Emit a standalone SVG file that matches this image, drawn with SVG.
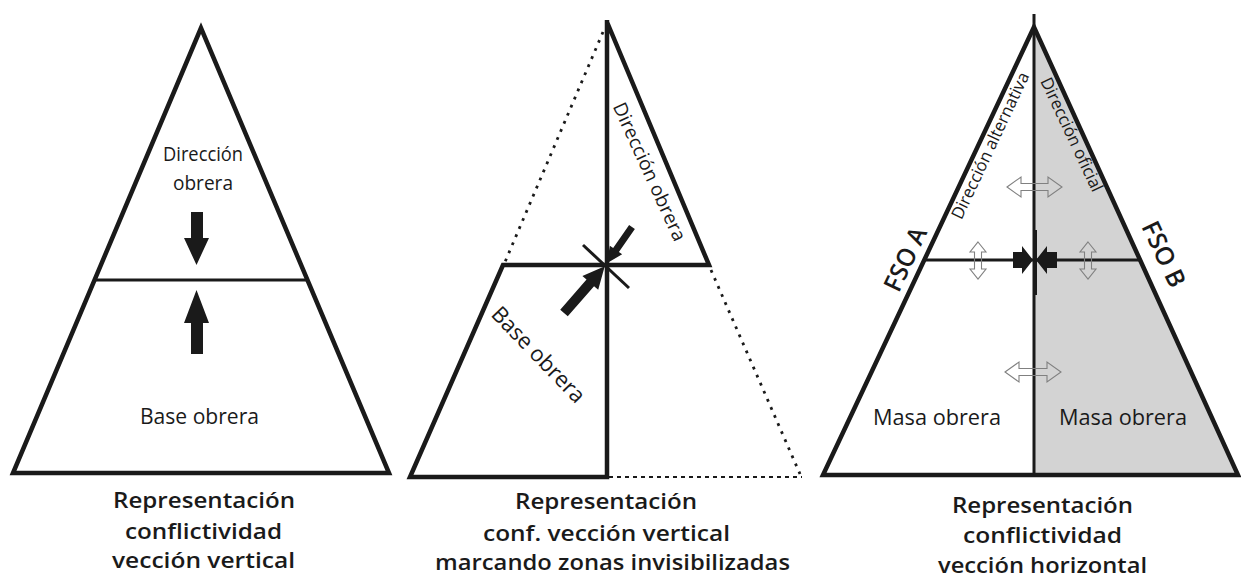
<svg xmlns="http://www.w3.org/2000/svg" width="1241" height="580" viewBox="0 0 1241 580">
<style>
.ln{fill:none;stroke:#1a1a1a;stroke-width:4.5;stroke-linejoin:miter}
.thin{fill:none;stroke:#1a1a1a;stroke-width:3}
.dot{fill:none;stroke:#1a1a1a;stroke-width:2.8;stroke-dasharray:2.8 6}
.dash{fill:none;stroke:#1a1a1a;stroke-width:2;stroke-dasharray:4 4}
.solid{fill:#1a1a1a;stroke:none}
.open{fill:none;stroke:#808080;stroke-width:1.1}
.lbl{font-family:"Open Sans","DejaVu Sans",sans-serif;fill:#1a1a1a;text-anchor:middle}
.cap{font-family:"Open Sans","DejaVu Sans",sans-serif;font-weight:600;font-size:22px;fill:#1a1a1a;text-anchor:middle}
.fso{font-family:"Open Sans","DejaVu Sans",sans-serif;font-weight:600;font-size:25px;fill:#1a1a1a;text-anchor:middle}
</style>
<rect width="1241" height="580" fill="#ffffff"/>

<g id="triangle1">
  <polygon class="ln" points="201,28 13,473 389,473"/>
  <line class="thin" x1="95" y1="280" x2="307" y2="280"/>
  <text class="lbl" x="203" y="161" font-size="20" textLength="80" lengthAdjust="spacingAndGlyphs">Dirección</text>
  <text class="lbl" x="203" y="190" font-size="20" textLength="60" lengthAdjust="spacingAndGlyphs">obrera</text>
  <text class="lbl" x="199.5" y="424" font-size="22" textLength="119" lengthAdjust="spacingAndGlyphs">Base obrera</text>
  <text class="cap" x="204" y="508" textLength="182" lengthAdjust="spacingAndGlyphs">Representación</text>
  <text class="cap" x="203.5" y="539" textLength="157" lengthAdjust="spacingAndGlyphs">conflictividad</text>
  <text class="cap" x="203.5" y="568" textLength="183" lengthAdjust="spacingAndGlyphs">vección vertical</text>
</g>

<g id="triangle2">
  <line class="dot" x1="603" y1="32" x2="505" y2="262"/>
  <line class="dot" x1="711" y1="270" x2="800" y2="474"/>
  <line class="dash" x1="609" y1="477" x2="802" y2="477"/>
  <polyline class="ln" points="607,22 709,265 503,265 410,477 607,477 607,20"/>
  <line class="thin" x1="583" y1="245" x2="629" y2="288"/>
  <text class="lbl" font-size="19" textLength="150" lengthAdjust="spacingAndGlyphs" transform="translate(649,172) rotate(65.5)" y="6">Dirección obrera</text>
  <text class="lbl" font-size="22" textLength="124" lengthAdjust="spacingAndGlyphs" transform="translate(538,355) rotate(46)" y="7">Base obrera</text>
  <text class="cap" x="606" y="509" textLength="182" lengthAdjust="spacingAndGlyphs">Representación</text>
  <text class="cap" x="606.5" y="541" textLength="247" lengthAdjust="spacingAndGlyphs">conf. vección vertical</text>
  <text class="cap" x="612.5" y="570" textLength="355" lengthAdjust="spacingAndGlyphs">marcando zonas invisibilizadas</text>
</g>

<g id="triangle3">
  <polygon points="1034,27 1238,475 1034,475" fill="#d3d3d3"/>
  <polygon class="ln" points="1034,27 823,475 1238,475"/>
  <line class="thin" x1="1034" y1="14" x2="1034" y2="475"/>
  <line class="thin" x1="1035.5" y1="230" x2="1035.5" y2="295"/>
  <line class="thin" x1="924" y1="260" x2="1141" y2="260"/>
  <text class="lbl" font-size="17" textLength="160" lengthAdjust="spacingAndGlyphs" transform="translate(991,146) rotate(-64.8)" y="5">Dirección alternativa</text>
  <text class="lbl" font-size="17" textLength="124" lengthAdjust="spacingAndGlyphs" transform="translate(1071,135) rotate(64.8)" y="5">Dirección oficial</text>
  <text class="fso" textLength="68" lengthAdjust="spacingAndGlyphs" transform="translate(905,259) rotate(-64.8)" y="9">FSO A</text>
  <text class="fso" textLength="70" lengthAdjust="spacingAndGlyphs" transform="translate(1164,254) rotate(64.8)" y="9">FSO B</text>
  <text class="lbl" x="937" y="425" font-size="21" textLength="128" lengthAdjust="spacingAndGlyphs">Masa obrera</text>
  <text class="lbl" x="1123" y="425" font-size="21" textLength="128" lengthAdjust="spacingAndGlyphs">Masa obrera</text>
  <text class="cap" x="1042.5" y="513" textLength="181" lengthAdjust="spacingAndGlyphs">Representación</text>
  <text class="cap" x="1042.5" y="543" textLength="159" lengthAdjust="spacingAndGlyphs">conflictividad</text>
  <text class="cap" x="1042.5" y="573" textLength="209" lengthAdjust="spacingAndGlyphs">vección horizontal</text>
</g>

<g id="connectors">
  <polygon class="solid" points="191,212 203,212 203,238 209,238 196.5,265 184,238 191,238"/>
  <polygon class="solid" points="196.5,290 209,323 203,323 203,354 191,354 191,323 184,323"/>
  <polygon class="solid" points="0,-3.5 28,-3.5 28,-7.5 44,0 28,7.5 28,3.5 0,3.5" transform="translate(632,227) rotate(124.8)"/>
  <polygon class="solid" points="0,-5 40,-5 40,-10.5 62,0 40,10.5 40,5 0,5" transform="translate(564,313) rotate(-48.9)"/>
  <path class="solid" d="M1013,252 L1022,252 L1022,246 L1033,260 L1022,274 L1022,268 L1013,268 Z"/>
  <path class="solid" d="M1057,252 L1047,252 L1047,246 L1036,260 L1047,274 L1047,268 L1057,268 Z"/>
  <path class="open" d="M1007,187 L1021,177 L1021,183.5 L1048,183.5 L1048,177 L1062,187 L1048,197 L1048,190.5 L1021,190.5 L1021,197 Z"/>
  <path class="open" d="M1005,372 L1019,362 L1019,368.5 L1047,368.5 L1047,362 L1061,372 L1047,382 L1047,375.5 L1019,375.5 L1019,382 Z"/>
  <path class="open" d="M978,242 L986,252 L981.5,252 L981.5,269 L986,269 L978,279 L970,269 L974.5,269 L974.5,252 L970,252 Z"/>
  <path class="open" d="M1088,242 L1096,252 L1091.5,252 L1091.5,269 L1096,269 L1088,279 L1080,269 L1084.5,269 L1084.5,252 L1080,252 Z"/>
</g>
</svg>
